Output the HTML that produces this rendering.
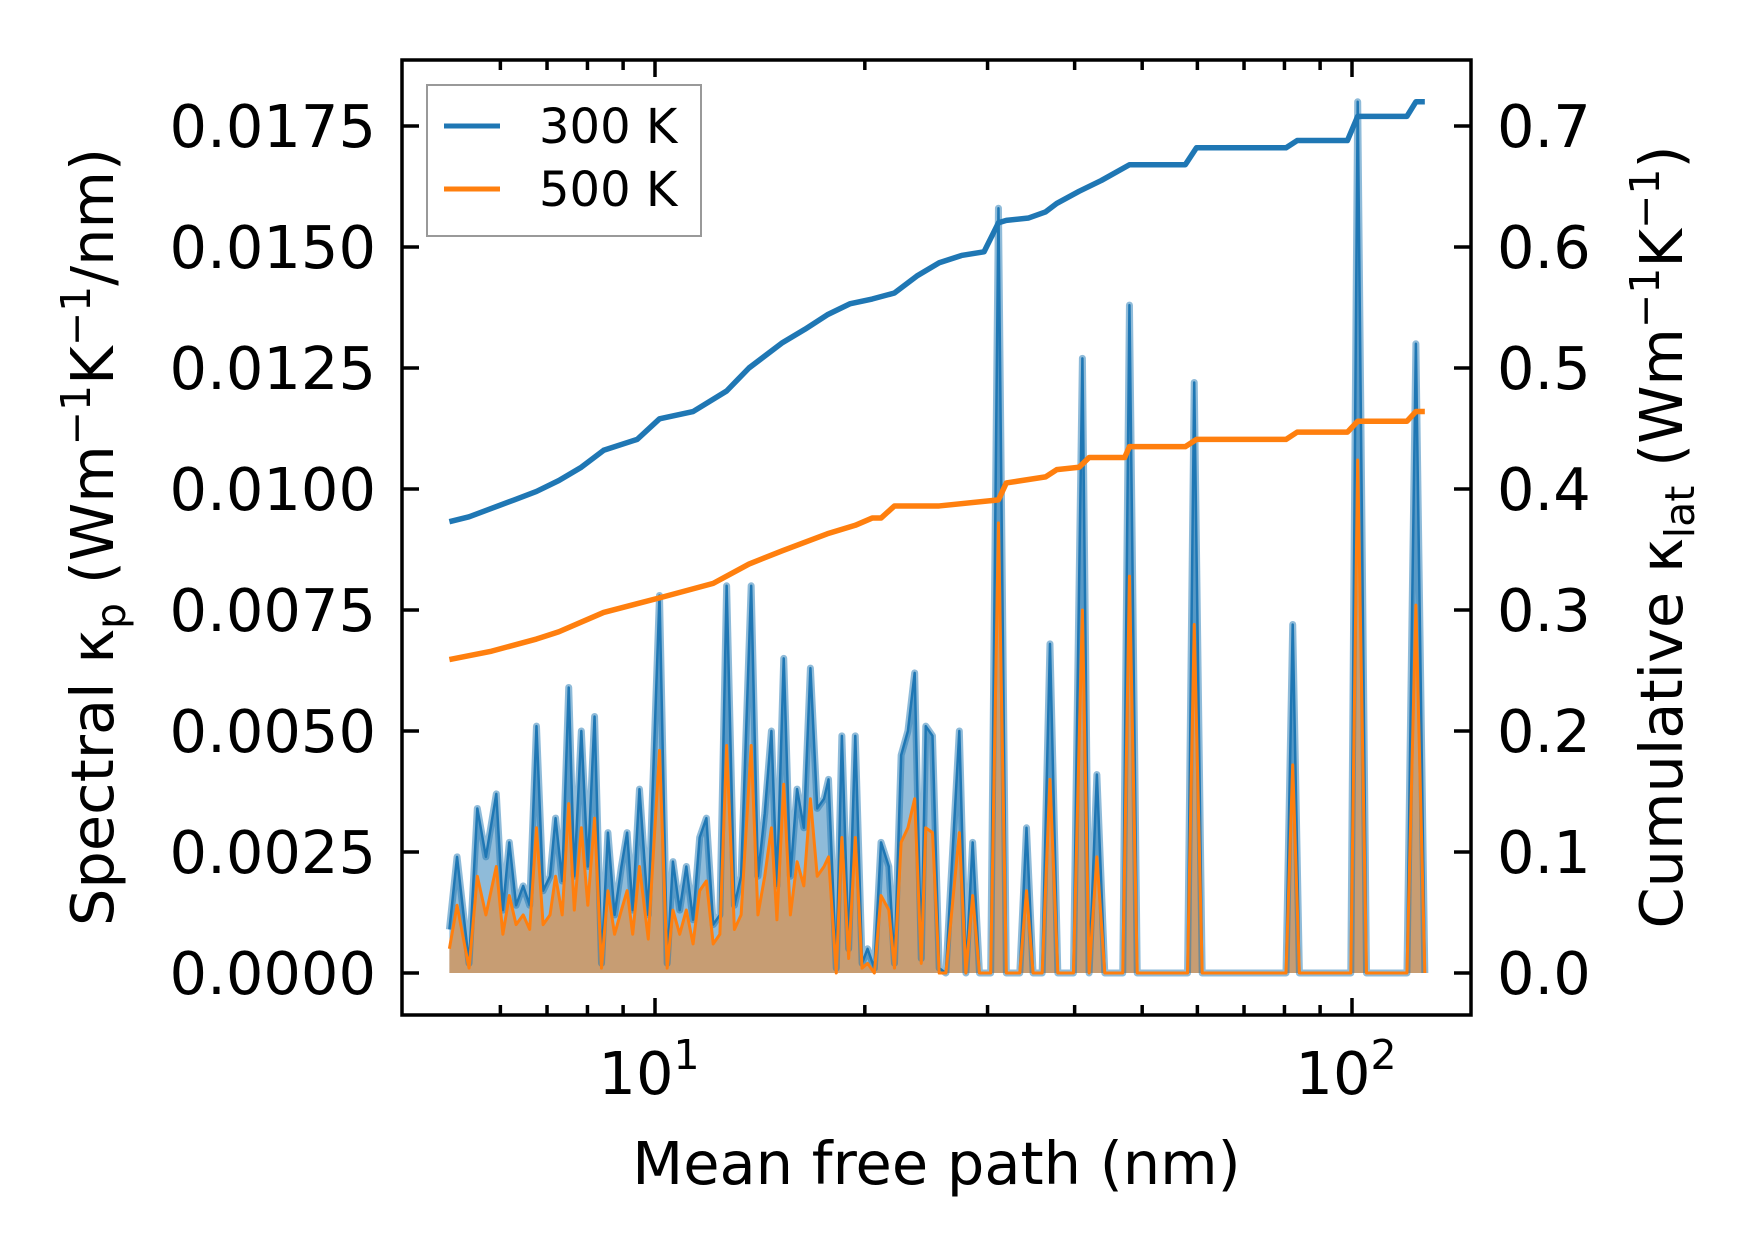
<!DOCTYPE html>
<html><head><meta charset="utf-8"><style>
html,body{margin:0;padding:0;background:#fff;}
svg{display:block;font-family:"DejaVu Sans","Liberation Sans",sans-serif;}
</style></head><body>
<svg id="chart" width="1753" height="1254" viewBox="0 0 1753 1254"></svg>
<script>
// spectral data (mean free path in nm, spectral kappa in 1e-3 units)
const specX = [5.07,5.20,5.41,5.56,5.72,5.92,6.05,6.18,6.32,6.47,6.61,6.76,6.91,7.07,7.20,7.36,7.52,7.66,7.84,8.01,8.19,8.38,8.56,8.75,8.95,9.12,9.29,9.50,9.78,10.15,10.41,10.61,10.85,11.09,11.34,11.59,11.85,12.12,12.39,12.67,13.00,13.29,13.74,14.05,14.37,14.69,14.96,15.30,15.64,15.99,16.35,16.71,17.09,17.48,17.74,18.20,18.54,18.96,19.38,19.82,20.18,20.64,21.10,21.65,22.06,22.55,23.06,23.58,24.10,24.46,25.01,25.57,26.14,27.33,27.93,28.56,29.21,30.31,31.10,31.92,33.37,34.12,34.87,35.93,36.87,37.84,38.69,39.84,41.04,41.96,43.05,44.19,46.89,47.94,49.19,58.08,59.38,60.96,80.41,82.21,84.05,99.6,101.9,104.9,119.9,123.5,127.2];
const spec300 = [0.9,2.4,0.2,3.4,2.4,3.7,1.3,2.7,1.4,1.8,1.4,5.1,1.7,2.0,3.2,1.9,5.9,2.0,5.0,2.2,5.3,0.2,2.9,1.2,2.2,2.9,1.3,3.8,1.2,7.8,0.2,2.3,1.3,2.2,1.1,2.8,3.2,1.0,1.2,8.0,1.4,2.0,8.0,2.0,3.3,5.0,1.8,6.5,2.0,3.8,3.0,6.3,3.4,3.6,4.0,0.1,4.9,0.5,4.9,0.2,0.5,0.1,2.7,2.2,0.2,4.5,5.0,6.2,0.3,5.1,4.9,0.1,0,5.0,0,2.7,0,0,15.8,0,0,3.0,0,0,6.8,0,0,0,12.7,0,4.1,0,0,13.8,0,0,12.2,0,0,7.2,0,0,18.0,0,0,13.0,0];
const spec500 = [0.5,1.4,0.1,2.0,1.2,2.2,0.8,1.6,1.0,1.2,0.9,3.0,1.0,1.2,2.0,1.2,3.5,1.3,3.0,1.4,3.2,0.1,1.7,0.8,1.3,1.7,0.8,2.2,0.7,4.6,0.1,1.3,0.8,1.3,0.6,1.7,1.9,0.6,0.8,4.7,0.9,1.2,4.7,1.2,2.0,3.0,1.1,3.9,1.2,2.3,1.8,3.6,2.0,2.2,2.4,0,2.8,0.3,2.8,0.1,0.2,0,1.6,1.3,0.1,2.7,3.0,3.6,0.2,3.0,2.9,0,0,2.9,0,1.6,0,0,9.3,0,0,1.7,0,0,4.0,0,0,0,7.5,0,2.4,0,0,8.2,0,0,7.2,0,0,4.3,0,0,10.6,0,0,7.6,0];
// cumulative data
const cumX = [5.07,5.41,5.83,6.28,6.76,7.28,7.84,8.44,9.43,10.15,11.34,12.67,13.64,15.24,16.41,17.67,19.03,20.49,22.06,23.75,25.57,27.53,29.65,31.10,31.92,34.37,36.33,37.70,40.59,43.70,47.94,57.65,59.82,80.41,83.43,98.5,101.9,119.9,123.5,127.2];
const cum300 = [0.373,0.377,0.384,0.391,0.398,0.407,0.418,0.432,0.441,0.458,0.464,0.481,0.500,0.521,0.532,0.544,0.553,0.557,0.562,0.576,0.587,0.593,0.596,0.620,0.622,0.624,0.629,0.636,0.646,0.655,0.668,0.668,0.682,0.682,0.688,0.688,0.708,0.708,0.720,0.720];
const cum500X = [5.07,5.83,6.76,7.28,8.44,10.15,12.12,13.64,15.24,17.67,19.38,20.49,21.10,22.06,25.57,31.10,31.92,36.33,37.70,40.59,41.96,47.19,47.94,57.65,59.82,80.41,83.43,98.5,101.9,119.9,123.5,127.2];
const cum500 = [0.259,0.266,0.276,0.282,0.298,0.310,0.322,0.338,0.349,0.363,0.370,0.376,0.376,0.386,0.386,0.391,0.405,0.410,0.416,0.418,0.426,0.426,0.435,0.435,0.441,0.441,0.447,0.447,0.456,0.456,0.464,0.464];
const yTicksL = ["0.0000","0.0025","0.0050","0.0075","0.0100","0.0125","0.0150","0.0175"];
const yTicksR = ["0.0","0.1","0.2","0.3","0.4","0.5","0.6","0.7"];

const NS="http://www.w3.org/2000/svg";
const svg=document.getElementById('chart');
const L=402,R=1471,T=60,B=1015;
const X=v=>655+697*(Math.log10(v)-1);
const YL=v=>973-v/0.0025*121.0;
const YR=v=>973-v/0.1*121.0;
function mk(tag,attrs,parent){const e=document.createElementNS(NS,tag);for(const k in attrs)e.setAttribute(k,attrs[k]);(parent||svg).appendChild(e);return e;}

const defs=mk('defs',{});
const cp=mk('clipPath',{id:'clip'},defs);
mk('rect',{x:L,y:T,width:R-L,height:B-T},cp);
const g=mk('g',{'clip-path':'url(#clip)'});



function fillPath(vals,xs){let d='M'+X(xs[0])+','+YL(0);xs.forEach((x,i)=>d+='L'+X(x)+','+YL(vals[i]/1000));d+='L'+X(xs[xs.length-1])+','+YL(0)+'Z';return d;}
function linePath(vals,xs,Y){return xs.map((x,i)=>(i?'L':'M')+X(x)+','+Y(vals[i])).join('');}

const f3=mk('path',{d:fillPath(spec300,specX),fill:'#1f77b4','fill-opacity':0.5},g);


const f5=mk('path',{d:fillPath(spec500,specX),fill:'#ff7f0e','fill-opacity':0.5},g);


const specY=v=>YL(v/1000);
const l3w=mk('path',{d:linePath(spec300,specX,specY),fill:'none',stroke:'#1f77b4','stroke-opacity':0.5,'stroke-width':7,'stroke-linejoin':'round'},g);


const l3=mk('path',{d:linePath(spec300,specX,specY),fill:'none',stroke:'#1f77b4','stroke-width':2.5,'stroke-linejoin':'round'},g);


const l5=mk('path',{d:linePath(spec500,specX,specY),fill:'none',stroke:'#ff7f0e','stroke-width':3,'stroke-linejoin':'round'},g);


const c3=mk('path',{d:linePath(cum300,cumX,YR),fill:'none',stroke:'#1f77b4','stroke-width':5.5,'stroke-linejoin':'round'},g);


const c5=mk('path',{d:linePath(cum500,cum500X,YR),fill:'none',stroke:'#ff7f0e','stroke-width':5.5,'stroke-linejoin':'round'},g);



const tk=mk('g',{stroke:'#000','stroke-width':3.5});


yTicksL.forEach((t,i)=>{const y=YL(parseFloat(t));
  mk('line',{x1:L,x2:L+17,y1:y,y2:y},tk);mk('line',{x1:R,x2:R-17,y1:y,y2:y},tk);
  const tx=mk('text',{x:L-26,y:y+21,'text-anchor':'end','font-size':59,fill:'#000',stroke:'none'});tx.textContent=t;
  
  
});
yTicksR.forEach((t,i)=>{const y=YR(parseFloat(t));
  const tx=mk('text',{x:R+26,y:y+21,'text-anchor':'start','font-size':59,fill:'#000'});tx.textContent=t;
  
  
});
[6,7,8,9,20,30,40,50,60,70,80,90].forEach(v=>{const x=X(v);
  mk('line',{x1:x,x2:x,y1:B,y2:B-10},tk);mk('line',{x1:x,x2:x,y1:T,y2:T+10},tk);});
[[10,'1'],[100,'2']].forEach(([v,e])=>{const x=X(v);
  mk('line',{x1:x,x2:x,y1:B,y2:B-17},tk);mk('line',{x1:x,x2:x,y1:T,y2:T+17},tk);
  const tx=mk('text',{x:x-6,y:1094,'text-anchor':'middle','font-size':59,fill:'#000'});
  
  
  tx.textContent='10';
  const s=mk('tspan',{'font-size':41,dy:-25},tx);s.textContent=e;
});
const frame=mk('rect',{x:L,y:T,width:R-L,height:B-T,fill:'none',stroke:'#000','stroke-width':3.5});



const xl=mk('text',{x:(L+R)/2,y:1184,'text-anchor':'middle','font-size':59,fill:'#000'});
xl.textContent='Mean free path (nm)';


const yl=mk('text',{transform:'translate(113,537) rotate(-90)','text-anchor':'middle','font-size':59,fill:'#000'});


yl.innerHTML='Spectral κ<tspan font-size="41" dy="12">p</tspan><tspan dy="-12"> (Wm</tspan><tspan font-size="41" dy="-23">−1</tspan><tspan dy="23">K</tspan><tspan font-size="41" dy="-23">−1</tspan><tspan dy="23">/nm)</tspan>';
const yr=mk('text',{transform:'translate(1682,537) rotate(-90)','text-anchor':'middle','font-size':59,fill:'#000'});


yr.innerHTML='Cumulative κ<tspan font-size="41" dy="12">lat</tspan><tspan dy="-12"> (Wm</tspan><tspan font-size="41" dy="-23">−1</tspan><tspan dy="23">K</tspan><tspan font-size="41" dy="-23">−1</tspan><tspan dy="23">)</tspan>';

const lg=mk('g',{});


mk('rect',{x:427,y:85,width:274,height:151,fill:'#fff','fill-opacity':0.8,stroke:'#999','stroke-width':2},lg);
[['300 K','#1f77b4',126],['500 K','#ff7f0e',189]].forEach(([t,c,y])=>{
  const e=mk('g',{},lg);
  
  
  mk('line',{x1:444,x2:500,y1:y,y2:y,stroke:c,'stroke-width':5},e);
  const tx=mk('text',{x:539,y:y+17,'font-size':48,fill:'#000'},e);tx.textContent=t;
});
</script>
</body></html>
